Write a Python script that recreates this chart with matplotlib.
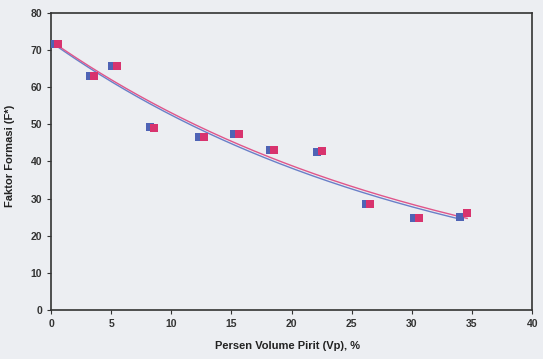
import numpy as np
import matplotlib.pyplot as plt

plt.rcParams['font.family'] = ['Liberation Sans', 'DejaVu Sans']

# Data (two series, nearly overlapping)
x_blue = [0.3, 3.2, 5.1, 8.2, 12.3, 15.25, 18.2, 22.1, 26.2, 30.2, 34.0]
y_blue = [71.5, 63.0, 65.7, 49.2, 46.5, 47.3, 43.2, 42.6, 28.6, 24.9, 25.1]
x_pink = [0.6, 3.6, 5.5, 8.6, 12.7, 15.6, 18.5, 22.5, 26.5, 30.6, 34.6]
y_pink = [71.5, 63.0, 65.7, 49.0, 46.5, 47.3, 43.2, 42.7, 28.6, 24.9, 26.0]

x_ticks = [0, 5, 10, 15, 20, 25, 30, 35, 40]
y_ticks = [0, 10, 20, 30, 40, 50, 60, 70, 80]

bg = '#eceef2'
fig = plt.figure(figsize=(5.43, 3.59), dpi=100, facecolor=bg)
ax = fig.add_axes([0.094, 0.1365, 0.886, 0.8275], facecolor=bg)

# exponential trendlines fitted to each series
for xs, ys, c in [(x_blue, y_blue, '#6a7fc8'), (x_pink, y_pink, '#e0558a')]:
    xx = np.linspace(0, max(xs), 200)
    b, a = np.polyfit(xs, np.log(ys), 1)
    ax.plot(xx, np.exp(a) * np.exp(b * xx), color=c, lw=1.0, zorder=2)

ax.scatter(x_blue, y_blue, marker='s', s=38, color='#4f63b5', zorder=3, lw=0)
ax.scatter(x_pink, y_pink, marker='s', s=38, color='#d8336e', zorder=4, lw=0)

ax.set_xlim(0, 40)
ax.set_ylim(0, 80)
ax.set_xticks(x_ticks)
ax.set_yticks(y_ticks)
ax.tick_params(labelsize=7.5, length=3, width=0.8, colors='#333333')
for lab in ax.get_xticklabels() + ax.get_yticklabels():
    lab.set_fontweight('bold')
for s in ax.spines.values():
    s.set_color('#333333')
    s.set_linewidth(1.2)

ax.set_xlabel("Persen Volume Pirit (Vp), %", fontsize=8, fontweight='bold',
              ha='left', color='#222222')
ax.xaxis.set_label_coords(0.34, -0.105)
ax.set_ylabel("Faktor Formasi (F*)", fontsize=8, fontweight='bold',
              color='#222222')
ax.yaxis.set_label_coords(-0.075, 0.52)

fig.savefig('out.png', dpi=100, facecolor=bg)
